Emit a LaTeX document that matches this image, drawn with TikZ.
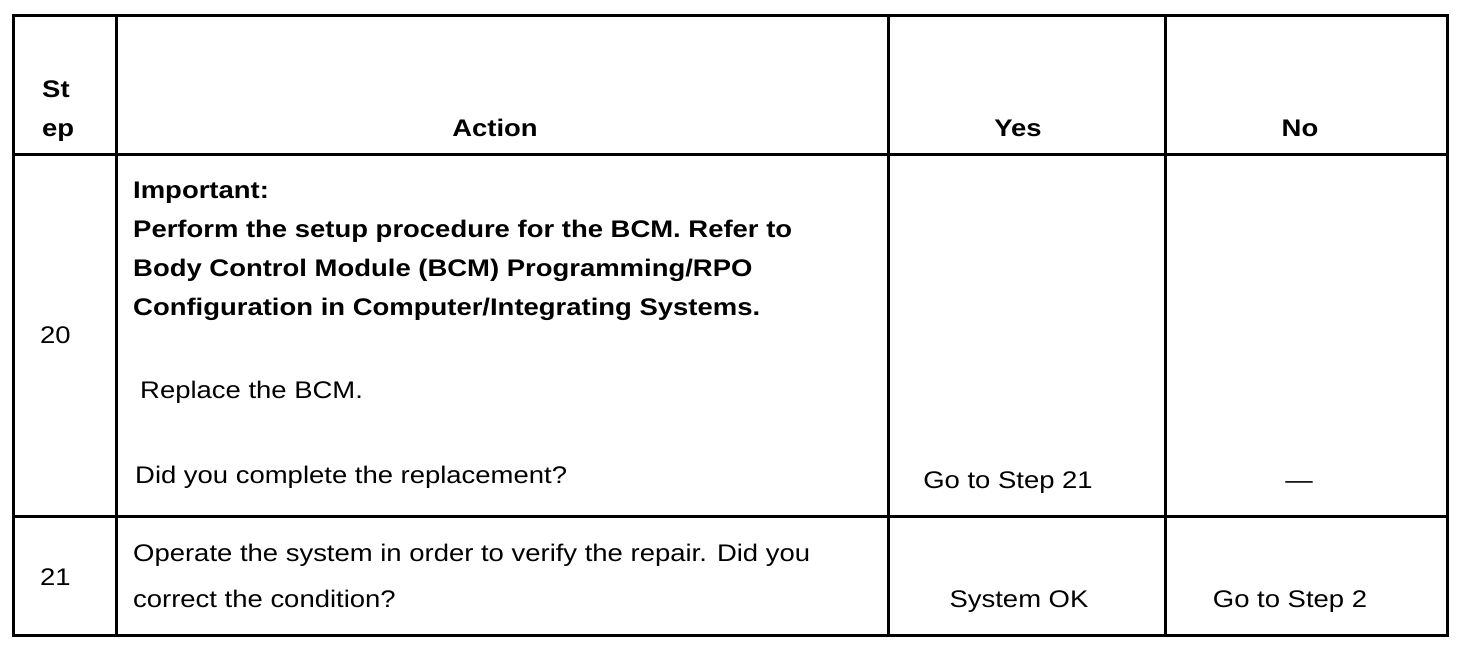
\documentclass[tikz,border=0pt]{standalone}
\usepackage{fontspec}
\setmainfont{Liberation Sans}[FakeStretch=1.144]
\begin{document}
\begin{tikzpicture}[x=1pt,y=-1pt,
  grid/.style={line width=3pt,black},
  txt/.style={inner sep=0pt,font=\fontsize{24}{28}\selectfont},
  btxt/.style={txt,font=\fontsize{24}{28}\selectfont\bfseries},
  lft/.style={anchor=base west},
  ctr/.style={anchor=base}]
\useasboundingbox (0,0) rectangle (1472,646);
% grid coordinates
\coordinate (tl) at (13.7,15.3);
\coordinate (br) at (1447,635.3);
\draw[grid] (tl) rectangle (br);
\draw[grid] (116,15.3) -- (116,635.3);
\draw[grid] (888,15.3) -- (888,635.3);
\draw[grid] (1165,15.3) -- (1165,635.3);
\draw[grid] (13.7,154.5) -- (1447,154.5);
\draw[grid] (13.7,516) -- (1447,516);
% header
\node[btxt,lft] (h1) at (42,97.5) {St};
\node[btxt,lft] (h2) at (42,136) {ep};
\node[btxt,ctr] (ha) at (495,136) {Action};
\node[btxt,ctr] (hy) at (1018,136) {Yes};
\node[btxt,ctr] (hn) at (1300,136) {No};
% row 20
\node[txt,lft] (s20) at (40,343) {20};
\node[btxt,lft] (a1) at (133,198) {Important:};
\node[btxt,lft] (a2) at (133,237) {Perform the setup procedure for the BCM. Refer to};
\node[btxt,lft] (a3) at (133,276) {Body Control Module (BCM) Programming/RPO};
\node[btxt,lft] (a4) at (133,315) {Configuration in Computer/Integrating Systems.};
\node[txt,lft] (a5) at (140,398.5) {Replace the BCM.};
\node[txt,lft] (a6) at (135,483) {Did you complete the replacement?};
\node[txt,ctr] (y20) at (1008,488) {Go to Step 21};
\node[txt,ctr] (n20) at (1299,488) {\textemdash};
% row 21
\node[txt,lft] (s21) at (40,585) {21};
\node[txt,lft] (b1) at (133,561) {Operate the system in order to verify the repair. Did you};
\node[txt,lft] (b2) at (133,607) {correct the condition?};
\node[txt,ctr] (y21) at (1019,607) {System OK};
\node[txt,ctr] (n21) at (1290,607) {Go to Step 2};
\end{tikzpicture}
\end{document}
